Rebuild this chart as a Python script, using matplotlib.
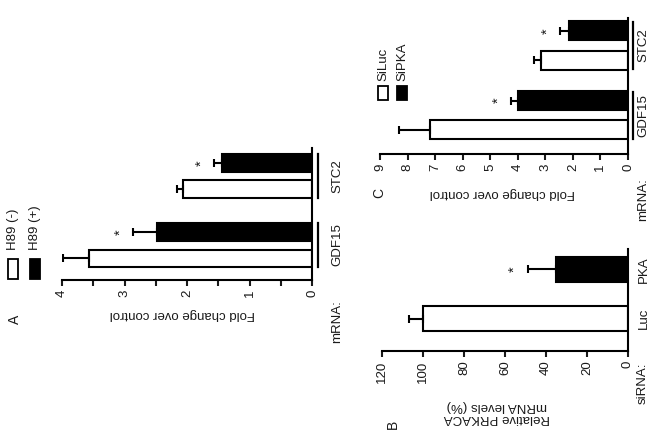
import matplotlib
matplotlib.use("Agg")
import matplotlib.pyplot as plt
import matplotlib.transforms as mtransforms
from matplotlib.patches import Rectangle
from matplotlib.ticker import MultipleLocator

plt.rcParams['font.family'] = ['Liberation Sans', 'DejaVu Sans']
plt.rcParams['font.size'] = 9.5
plt.rcParams['text.color'] = '#1a1a1a'
plt.rcParams['xtick.color'] = '#1a1a1a'

# panel A: H89 treatment, fold change
genes = ["GDF15", "STC2"]
a_minus = [3.57, 2.06]
a_minus_err = [0.41, 0.10]
a_plus = [2.48, 1.44]
a_plus_err = [0.38, 0.13]

# panel B: PRKACA mRNA after siRNA
sirna = ["Luc", "PKA"]
b_vals = [100, 35]
b_err = [7, 14]

# panel C: siLuc / siPKA, fold change
c_luc = [7.2, 3.15]
c_luc_err = [1.1, 0.25]
c_pka = [4.0, 2.15]
c_pka_err = [0.25, 0.3]

W, H = 649, 448
fig = plt.figure(figsize=(W / 100, H / 100), dpi=100)


def box(x0, x1, y0, y1):
    # pixel edges (top-left origin) -> figure rect
    return [x0 / W, 1 - y1 / H, (x1 - x0) / W, (y1 - y0) / H]


def ftext(x, y, s, **kw):
    fig.text(x / W, 1 - y / H, s, **kw)


def frect(x0, y0, x1, y1, color):
    fig.add_artist(Rectangle((x0 / W, 1 - y1 / H), (x1 - x0) / W, (y1 - y0) / H,
                             transform=fig.transFigure, facecolor=color,
                             edgecolor="black", linewidth=1.3))


def style(ax, xmax, ylo, yhi):
    ax.set_xlim(xmax, 0)
    ax.set_ylim(ylo, yhi)
    for s in ("top", "left"):
        ax.spines[s].set_visible(False)
    for s in ("bottom", "right"):
        ax.spines[s].set_linewidth(1.5)
    ax.set_yticks([])
    ax.tick_params(axis="x", which="both", direction="out", length=4.5,
                   width=1.5, labelrotation=90, pad=2.5)


def bars(ax, pos, vals, errs, color, h):
    ax.barh(pos, vals, height=h, color=color, edgecolor="black", linewidth=1.5,
            xerr=[[0] * len(vals), errs],
            error_kw=dict(ecolor="black", elinewidth=1.5, capsize=3.2, capthick=1.5))


def stars(ax, pos, vals, errs):
    for p, v, e in zip(pos, vals, errs):
        ax.annotate("*", xy=(v + e, p), xytext=(-9, 0), textcoords="offset points",
                    ha="center", va="center", rotation=90, fontsize=10.5)


def cats(ax, pos, labels, xlab, xline=None, half=0.3):
    tr = mtransforms.blended_transform_factory(ax.transAxes, ax.transData)
    for p, lab in zip(pos, labels):
        if xline is not None:
            ax.plot([xline, xline], [p - half, p + half], transform=tr,
                    color="black", lw=1.6, clip_on=False)
        ax.text(xlab, p, lab, transform=tr, rotation=90, ha="center", va="center")


# ---- panel A ----
ax_a = fig.add_axes(box(62, 312, 148, 280))
ga = [0, 1]
off, hb = 0.19, 0.25
pa_minus = [g - off for g in ga]
pa_plus = [g + off for g in ga]
bars(ax_a, pa_minus, a_minus, a_minus_err, "white", hb)
bars(ax_a, pa_plus, a_plus, a_plus_err, "black", hb)
stars(ax_a, pa_plus, a_plus, a_plus_err)
style(ax_a, 4, -0.507, 1.406)
ax_a.xaxis.set_major_locator(MultipleLocator(1))
ax_a.xaxis.set_minor_locator(MultipleLocator(0.5))
cats(ax_a, ga, genes, 1.10, xline=1.024, half=0.315)
ftext(182, 314, "Fold change over control", rotation=180, ha="center", va="center")
ftext(337, 322, "mRNA:", rotation=90, ha="center", va="center")
ftext(15, 319, "A", rotation=90, ha="center", va="center", fontsize=10)
frect(8, 259, 18, 279, "white")
frect(30, 259, 40, 279, "black")
ftext(13, 250, "H89 (-)", rotation=90, ha="center", va="bottom")
ftext(35, 250, "H89 (+)", rotation=90, ha="center", va="bottom")

# ---- panel C ----
ax_c = fig.add_axes(box(380, 628, 18, 154))
gc = [0, 1]
offc, hc = 0.21, 0.27
pc_luc = [g - offc for g in gc]
pc_pka = [g + offc for g in gc]
bars(ax_c, pc_luc, c_luc, c_luc_err, "white", hc)
bars(ax_c, pc_pka, c_pka, c_pka_err, "black", hc)
stars(ax_c, pc_pka, c_pka, c_pka_err)
style(ax_c, 9, -0.556, 1.394)
ax_c.xaxis.set_major_locator(MultipleLocator(1))
cats(ax_c, gc, genes, 1.062, xline=1.022, half=0.337)
ftext(502, 193, "Fold change over control", rotation=180, ha="center", va="center")
ftext(643, 200, "mRNA:", rotation=90, ha="center", va="center")
ftext(379, 193, "C", rotation=90, ha="center", va="center", fontsize=10)
frect(378, 86, 388, 100, "white")
frect(397, 86, 407, 100, "black")
ftext(383, 81, "SiLuc", rotation=90, ha="center", va="bottom")
ftext(402, 81, "SiPKA", rotation=90, ha="center", va="bottom")

# ---- panel B ----
ax_b = fig.add_axes(box(382, 628, 249, 351))
gb = [0, 1]
bars(ax_b, [gb[0]], [b_vals[0]], [b_err[0]], "white", 0.51)
bars(ax_b, [gb[1]], [b_vals[1]], [b_err[1]], "black", 0.51)
stars(ax_b, [gb[1]], [b_vals[1]], [b_err[1]])
style(ax_b, 120, -0.663, 1.418)
ax_b.xaxis.set_major_locator(MultipleLocator(20))
cats(ax_b, gb, sirna, 1.063)
ftext(497, 412, "Relative PRKACA\nmRNA levels (%)", rotation=180, ha="center",
      va="center", multialignment="center", linespacing=1.1)
ftext(643, 383, "siRNA:", rotation=90, ha="center", va="center")
ftext(393, 424, "B", rotation=90, ha="center", va="center", fontsize=10)

fig.savefig("out.png", dpi=100)
